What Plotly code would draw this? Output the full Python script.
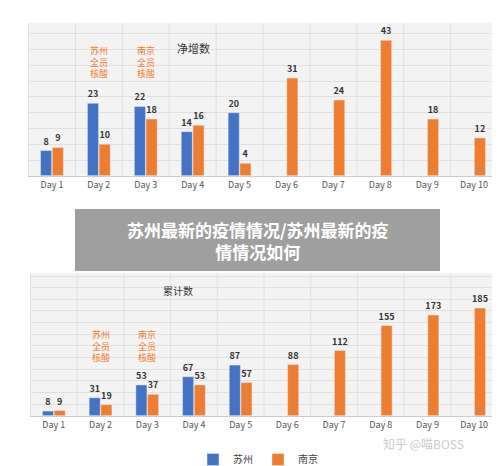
import plotly.graph_objects as go

days = ["Day 1","Day 2","Day 3","Day 4","Day 5","Day 6","Day 7","Day 8","Day 9","Day 10"]
sz_new = [8, 23, 22, 14, 20, None, None, None, None, None]
nj_new = [9, 10, 18, 16, 4, 31, 24, 43, 18, 12]
sz_cum = [8, 31, 53, 67, 87, None, None, None, None, None]
nj_cum = [9, 19, 37, 53, 57, 88, 112, 155, 173, 185]

BLUE = "#4472C4"; ORANGE = "#ED7D31"
fig = go.Figure()
font = "Noto Sans CJK SC"

def add(x_ax, y_ax, sz, nj, show):
    fig.add_trace(go.Bar(x=days, y=sz, name="苏州", marker_color=BLUE, xaxis=x_ax, yaxis=y_ax,
                         text=[("" if v is None else f"<b>{v}</b>") for v in sz], textposition="outside",
                         constraintext="none",
                         textfont=dict(size=9, color="#333"), cliponaxis=False, showlegend=show))
    fig.add_trace(go.Bar(x=days, y=nj, name="南京", marker_color=ORANGE, xaxis=x_ax, yaxis=y_ax,
                         text=[f"<b>{v}</b>" for v in nj], textposition="outside",
                         constraintext="none",
                         textfont=dict(size=9, color="#333"), cliponaxis=False, showlegend=show))

add("x", "y", sz_new, nj_new, False)
add("x2", "y2", sz_cum, nj_cum, True)

axx = dict(showgrid=False, tickfont=dict(size=9, color="#555"), showline=True, linecolor="#ccc", ticks="")
fig.update_layout(
    width=500, height=466, margin=dict(l=0, r=0, t=0, b=0),
    paper_bgcolor="white", plot_bgcolor="#f3f3f3", font=dict(family=font),
    barmode="group", bargap=0.5, bargroupgap=0.05,
    uniformtext=dict(minsize=9, mode="show"),
    xaxis=dict(domain=[0.04, 0.98], anchor="y", **axx),
    yaxis=dict(domain=[0.64, 0.968], range=[0, 48.5], dtick=5, showticklabels=False,
               gridcolor="#e0e0e0", zeroline=False),
    xaxis2=dict(domain=[0.044, 0.98], anchor="y2", **axx),
    yaxis2=dict(domain=[0.125, 0.431], range=[0, 245], dtick=20, showticklabels=False,
                gridcolor="#e0e0e0", zeroline=False),
    legend=dict(orientation="h", x=0.5, xanchor="center", y=0.0, yanchor="bottom",
                font=dict(size=10, color="#444")),
)
for xa, ya in (("x", "y"), ("x2", "y2")):
    for i in range(11):
        fig.add_shape(type="line", xref=xa, yref=ya + " domain", x0=i - 0.5, x1=i - 0.5, y0=0, y1=1,
                      line=dict(color="#e0e0e0", width=1), layer="below")

for x, y, t, s in ((0.37, 0.935, "净增数", 11), (0.34, 0.393, "累计数", 10)):
    fig.add_annotation(x=x, y=y, xref="paper", yref="paper", text=t,
                       showarrow=False, font=dict(size=s, color="#333"))
for xa, ya, yv in (("x", "y", 36), ("x2", "y2", 120)):
    fig.add_annotation(x="Day 2", y=yv, xref=xa, yref=ya, text="苏州<br>全员<br>核酸", showarrow=False,
                       font=dict(size=9, color=ORANGE))
    fig.add_annotation(x="Day 3", y=yv, xref=xa, yref=ya, text="南京<br>全员<br>核酸", showarrow=False,
                       font=dict(size=9, color=ORANGE))

fig.add_shape(type="rect", xref="paper", yref="paper", x0=67/500, x1=432/500,
              y0=1-263/466, y1=1-201/466, fillcolor="#9a9a9a", line_width=0, opacity=0.95)
fig.add_annotation(x=0.5, y=1-232/466, xref="paper", yref="paper", showarrow=False,
                   text="<b>苏州最新的疫情情况/苏州最新的疫<br>情情况如何</b>",
                   font=dict(size=17, color="white"))
fig.add_annotation(x=0.915, y=1-446/466, xref="paper", yref="paper", showarrow=False,
                   text="知乎 @喵BOSS", font=dict(size=12, color="#cccccc"))

fig.write_html("out.html")
